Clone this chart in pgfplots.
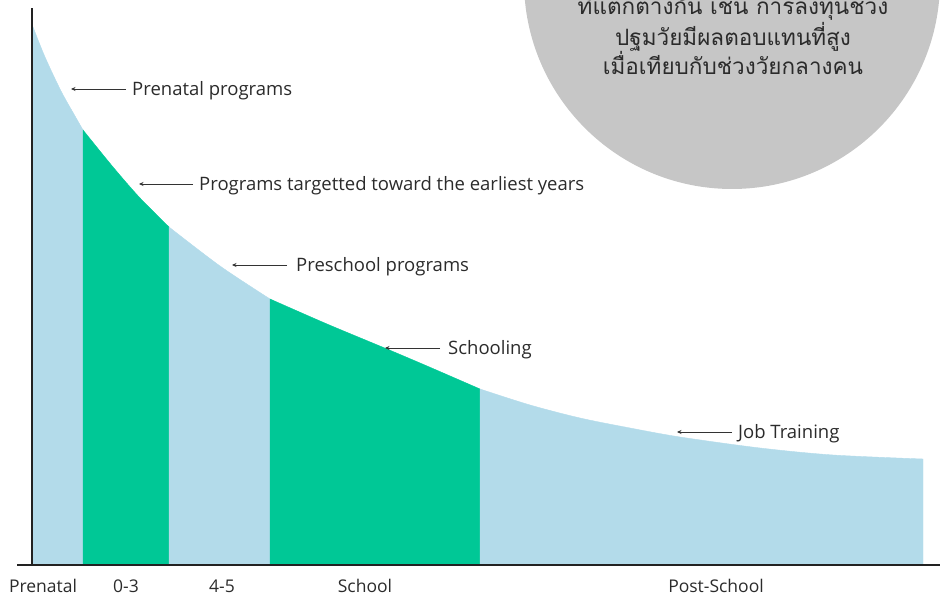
\documentclass[border=0pt]{standalone}
\usepackage{fontspec}
\setmainfont{Open Sans}
\newfontfamily\thaifont[Script=Thai]{Loma}
\usepackage{pgfplots}
\pgfplotsset{compat=1.18}
\usetikzlibrary{arrows.meta}
\definecolor{lb}{HTML}{B3DBEA}
\definecolor{gr}{HTML}{00C896}
\definecolor{circ}{HTML}{C6C6C6}
\definecolor{axc}{HTML}{222222}
\definecolor{txt}{HTML}{2B2B2B}
\definecolor{arc}{HTML}{333333}
\begin{document}
\begin{tikzpicture}[x=1pt,y=1pt]
\path[use as bounding box] (0,0) rectangle (940,599);
\begin{scope}
\clip (0,0) rectangle (940,599);
\fill[circ] (732,618) circle (208);
\end{scope}
\node[anchor=base, font=\thaifont\fontsize{22.5}{26}\selectfont, text=txt] at (733,584) {ที่แตกต่างกัน เช่น การลงทุนช่วง};
\node[anchor=base, font=\thaifont\fontsize{22.5}{26}\selectfont, text=txt] at (733,553) {ปฐมวัยมีผลตอบแทนที่สูง};
\node[anchor=base, font=\thaifont\fontsize{22.5}{26}\selectfont, text=txt] at (733,524) {เมื่อเทียบกับช่วงวัยกลางคน};
\begin{axis}[
  at={(32pt,34pt)}, anchor=south west,
  scale only axis, width=908pt, height=557pt,
  xmin=32, xmax=940, ymin=0, ymax=557,
  axis lines=left,
  axis line style={draw=axc, line width=2.8pt, -},
  x axis line style={shorten <=-15pt},
  ytick=\empty,
  xtick={43,126,222,365,716},
  xticklabels={Prenatal,0-3,4-5,School,Post-School},
  major tick length=0pt,
  xticklabel style={anchor=center, yshift=-21pt, font=\fontsize{17.5}{20}\selectfont, text=txt},
  clip=false,
  axis on top,
]
\addplot[fill=lb, draw=lb, line width=0.4pt, smooth] coordinates {
(33,538) (45,508) (61,474) (75,449) (83,435)} \closedcycle;
\addplot[fill=gr, draw=gr, line width=0.4pt, smooth] coordinates {
(83,435) (113,398) (140,367) (169,338)} \closedcycle;
\addplot[fill=lb, draw=lb, line width=0.4pt, smooth] coordinates {
(169,338) (220,299) (270,266)} \closedcycle;
\addplot[fill=gr, draw=gr, line width=0.4pt, smooth] coordinates {
(270,266) (327,241) (387,216) (427,199) (480,176)} \closedcycle;
\addplot[fill=lb, draw=lb, line width=0.4pt, smooth] coordinates {
(480,176) (530,160) (580,147) (630,137) (680,128) (760,117) (833,110) (923,106)} \closedcycle;
\tikzset{lab/.style={anchor=base west, inner sep=0pt, font=\fontsize{18.5}{20}\selectfont, text=txt},
  arw/.style={draw=arc, line width=0.9pt, -{Stealth[length=4.5pt,width=4pt]}}}
\draw[arw] (axis cs:126,476) -- (axis cs:71,476);
\node[lab] at (axis cs:132,469) {Prenatal programs};
\draw[arw] (axis cs:193,381) -- (axis cs:139,381);
\node[lab] at (axis cs:199,374) {Programs targetted toward the earliest years};
\draw[arw] (axis cs:287,300) -- (axis cs:232,300);
\node[lab] at (axis cs:296,293) {Preschool programs};
\draw[arw] (axis cs:440,217) -- (axis cs:385,217);
\node[lab] at (axis cs:448,210) {Schooling};
\draw[arw] (axis cs:732,133) -- (axis cs:677,133);
\node[lab] at (axis cs:738,126) {Job Training};
\end{axis}
\end{tikzpicture}
\end{document}
